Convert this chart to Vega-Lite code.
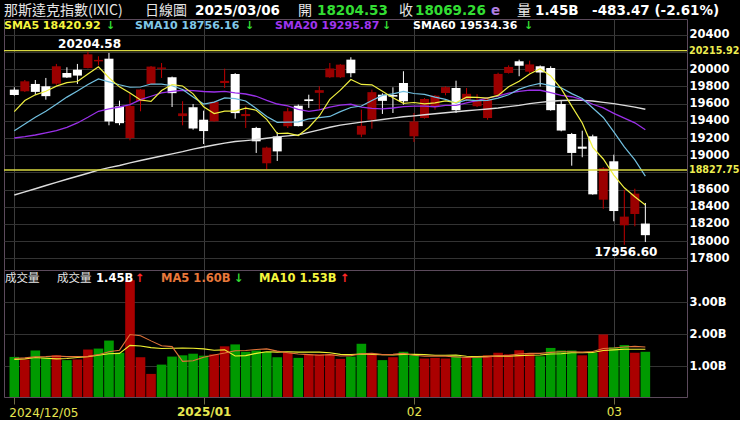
{
"$schema":"https://vega.github.io/schema/vega-lite/v6.json",
"background":"#000000",
"padding":{"left":2,"top":0,"right":0,"bottom":0},
"spacing":0,
"bounds":"flush",
"config":{"view":{"stroke":"#5c4a5c","strokeWidth":1},
"scale":{"continuousPadding":0},
"axis":{"labelFont":"DejaVu Sans","labelColor":"#ffffff","labelFontWeight":"bold","labelFontSize":11.5,"labelOverlap":false,"labelBound":false,"labelFlush":false},
"axisY":{"labelOverlap":false,"domain":false,"ticks":false,"labelPadding":2,"grid":true,"gridColor":"#333333"},
"axisX":{"labelOverlap":false,"domain":false,"grid":true,"gridColor":"#3c3c3c"}},
"resolve":{"scale":{"x":"independent","y":"independent","color":"independent"}},
"datasets":{
"k":[
{"i":0,"o":19763,"h":19790,"l":19693,"cl":19700.26,"vol":1.29,"u":"down","s5":19507.68,"s10":19285,"s20":19200,"s60":18537,"m5":1.24,"m10":1.21},
{"i":1,"o":19744,"h":19875,"l":19736,"cl":19859.77,"vol":1.21,"u":"up","s5":19636.00,"s10":19363,"s20":19216,"s60":18573,"m5":1.26,"m10":1.23},
{"i":2,"o":19829,"h":19875,"l":19704,"cl":19736.69,"vol":1.49,"u":"down","s5":19702.55,"s10":19441,"s20":19235,"s60":18610,"m5":1.29,"m10":1.27},
{"i":3,"o":19802,"h":19899,"l":19646,"cl":19687.24,"vol":1.27,"u":"down","s5":19743.82,"s10":19511,"s20":19259,"s60":18647,"m5":1.30,"m10":1.25},
{"i":4,"o":19832,"h":20062,"l":19820,"cl":20034.89,"vol":1.34,"u":"up","s5":19803.77,"s10":19593,"s20":19285,"s60":18683,"m5":1.32,"m10":1.23},
{"i":5,"o":19957,"h":20023,"l":19899,"cl":19902.84,"vol":1.19,"u":"down","s5":19844.29,"s10":19675.98,"s20":19325,"s60":18720,"m5":1.30,"m10":1.24},
{"i":6,"o":19995,"h":20062,"l":19829,"cl":19926.72,"vol":1.21,"u":"up","s5":19857.68,"s10":19746.84,"s20":19375,"s60":18755,"m5":1.30,"m10":1.27},
{"i":7,"o":20015,"h":20204.58,"l":20010,"cl":20173.89,"vol":1.52,"u":"up","s5":19945.12,"s10":19823.83,"s20":19441,"s60":18790,"m5":1.31,"m10":1.30},
{"i":8,"o":20092,"h":20151,"l":20046,"cl":20109.06,"vol":1.55,"u":"down","s5":20029.48,"s10":19886.65,"s20":19511,"s60":18826,"m5":1.36,"m10":1.34},
{"i":9,"o":20123,"h":20190,"l":19348,"cl":19392.69,"vol":1.80,"u":"down","s5":19901.04,"s10":19852.41,"s20":19538,"s60":18855,"m5":1.45,"m10":1.39},
{"i":10,"o":19569,"h":19635,"l":19349,"cl":19372.77,"vol":1.42,"u":"down","s5":19795.03,"s10":19819.66,"s20":19561,"s60":18880,"m5":1.50,"m10":1.40},
{"i":11,"o":19200,"h":19724,"l":19174,"cl":19572.60,"vol":3.68,"u":"up","s5":19724.20,"s10":19790.94,"s20":19588,"s60":18910,"m5":1.99,"m10":1.65},
{"i":12,"o":19628,"h":19770,"l":19511,"cl":19764.89,"vol":1.28,"u":"up","s5":19642.40,"s10":19793.76,"s20":19646,"s60":18938,"m5":1.95,"m10":1.63},
{"i":13,"o":19829,"h":20038,"l":19829,"cl":20031.13,"vol":0.76,"u":"up","s5":19626.82,"s10":19828.15,"s20":19686,"s60":18965,"m5":1.79,"m10":1.58},
{"i":14,"o":20005,"h":20073,"l":19899,"cl":20020.36,"vol":1.05,"u":"down","s5":19752.35,"s10":19826.70,"s20":19725,"s60":18990,"m5":1.64,"m10":1.55},
{"i":15,"o":19907,"h":19915,"l":19561,"cl":19722.03,"vol":1.30,"u":"down","s5":19822.20,"s10":19808.61,"s20":19742.30,"s60":19015,"m5":1.61,"m10":1.56},
{"i":16,"o":19455,"h":19628,"l":19348,"cl":19486.78,"vol":1.34,"u":"down","s5":19805.04,"s10":19764.62,"s20":19755.73,"s60":19041,"m5":1.15,"m10":1.57},
{"i":17,"o":19558,"h":19596,"l":19297,"cl":19310.79,"vol":1.39,"u":"down","s5":19714.22,"s10":19678.31,"s20":19751.07,"s60":19070,"m5":1.17,"m10":1.56},
{"i":18,"o":19413,"h":19518,"l":19130,"cl":19280.79,"vol":1.33,"u":"down","s5":19564.15,"s10":19595.48,"s20":19741.07,"s60":19095,"m5":1.28,"m10":1.54},
{"i":19,"o":19395,"h":19625,"l":19390,"cl":19621.68,"vol":1.37,"u":"up","s5":19484.41,"s10":19618.38,"s20":19735.39,"s60":19118,"m5":1.35,"m10":1.50},
{"i":20,"o":19840,"h":20007,"l":19782,"cl":19864.98,"vol":1.62,"u":"up","s5":19513.00,"s10":19667.60,"s20":19743.63,"s60":19140,"m5":1.41,"m10":1.51},
{"i":21,"o":19945,"h":19955,"l":19425,"cl":19489.68,"vol":1.68,"u":"down","s5":19513.58,"s10":19659.31,"s20":19725.13,"s60":19160,"m5":1.48,"m10":1.32},
{"i":22,"o":19455,"h":19569,"l":19317,"cl":19478.88,"vol":1.45,"u":"down","s5":19547.20,"s10":19630.71,"s20":19712.23,"s60":19170,"m5":1.49,"m10":1.33},
{"i":23,"o":19317,"h":19330,"l":19026,"cl":19161.63,"vol":1.49,"u":"down","s5":19523.37,"s10":19543.76,"s20":19685.95,"s60":19182,"m5":1.52,"m10":1.40},
{"i":24,"o":18906,"h":19099,"l":18836,"cl":19088.10,"vol":1.45,"u":"down","s5":19416.65,"s10":19450.53,"s20":19638.61,"s60":19198,"m5":1.54,"m10":1.45},
{"i":25,"o":19218,"h":19269,"l":18933,"cl":19044.39,"vol":1.28,"u":"down","s5":19252.54,"s10":19382.77,"s20":19595.69,"s60":19213,"m5":1.47,"m10":1.44},
{"i":26,"o":19337,"h":19550,"l":19317,"cl":19511.23,"vol":1.42,"u":"up","s5":19256.85,"s10":19385.22,"s20":19574.92,"s60":19225,"m5":1.42,"m10":1.45},
{"i":27,"o":19576,"h":19590,"l":19335,"cl":19338.29,"vol":1.26,"u":"down","s5":19228.73,"s10":19387.97,"s20":19533.14,"s60":19237,"m5":1.38,"m10":1.44},
{"i":28,"o":19650,"h":19704,"l":19550,"cl":19630.20,"vol":1.37,"u":"up","s5":19322.44,"s10":19422.91,"s20":19509.19,"s60":19265,"m5":1.36,"m10":1.44},
{"i":29,"o":19726,"h":19802,"l":19530,"cl":19756.78,"vol":1.37,"u":"up","s5":19456.18,"s10":19436.42,"s20":19527.40,"s60":19295,"m5":1.34,"m10":1.44},
{"i":30,"o":19907,"h":20073,"l":19900,"cl":20009.34,"vol":1.37,"u":"up","s5":19649.17,"s10":19450.85,"s20":19559.23,"s60":19325,"m5":1.36,"m10":1.42},
{"i":31,"o":19907,"h":20060,"l":19900,"cl":20053.68,"vol":1.23,"u":"up","s5":19757.66,"s10":19507.25,"s20":19583.28,"s60":19350,"m5":1.32,"m10":1.37},
{"i":32,"o":20112,"h":20140,"l":19907,"cl":19954.30,"vol":1.30,"u":"down","s5":19880.86,"s10":19554.79,"s20":19592.75,"s60":19368,"m5":1.33,"m10":1.36},
{"i":33,"o":19239,"h":19530,"l":19209,"cl":19341.83,"vol":1.70,"u":"down","s5":19823.19,"s10":19572.81,"s20":19558.29,"s60":19385,"m5":1.39,"m10":1.38},
{"i":34,"o":19413,"h":19763,"l":19309,"cl":19733.59,"vol":1.39,"u":"up","s5":19818.55,"s10":19637.36,"s20":19543.95,"s60":19400,"m5":1.40,"m10":1.37},
{"i":35,"o":19704,"h":19720,"l":19480,"cl":19632.32,"vol":1.19,"u":"down","s5":19743.14,"s10":19696.16,"s20":19539.46,"s60":19415,"m5":1.36,"m10":1.36},
{"i":36,"o":19700,"h":19790,"l":19491,"cl":19681.75,"vol":1.28,"u":"up","s5":19668.76,"s10":19713.21,"s20":19549.21,"s60":19432,"m5":1.37,"m10":1.35},
{"i":37,"o":19840,"h":19977,"l":19588,"cl":19627.44,"vol":1.45,"u":"down","s5":19603.39,"s10":19742.12,"s20":19565.04,"s60":19447,"m5":1.40,"m10":1.37},
{"i":38,"o":19220,"h":19491,"l":19154,"cl":19391.96,"vol":1.37,"u":"down","s5":19613.41,"s10":19718.30,"s20":19570.60,"s60":19458,"m5":1.34,"m10":1.37},
{"i":39,"o":19433,"h":19665,"l":19425,"cl":19654.02,"vol":1.24,"u":"up","s5":19597.50,"s10":19708.02,"s20":19572.22,"s60":19470,"m5":1.31,"m10":1.36},
{"i":40,"o":19560,"h":19700,"l":19530,"cl":19692.33,"vol":1.26,"u":"up","s5":19609.50,"s10":19676.32,"s20":19563.59,"s60":19482,"m5":1.32,"m10":1.34},
{"i":41,"o":19724,"h":19802,"l":19697,"cl":19791.99,"vol":1.24,"u":"up","s5":19631.55,"s10":19650.15,"s20":19578.70,"s60":19494,"m5":1.31,"m10":1.34},
{"i":42,"o":19782,"h":19867,"l":19491,"cl":19523.40,"vol":1.34,"u":"down","s5":19610.74,"s10":19607.06,"s20":19580.93,"s60":19506,"m5":1.29,"m10":1.35},
{"i":43,"o":19646,"h":19782,"l":19628,"cl":19714.27,"vol":1.26,"u":"up","s5":19675.20,"s10":19644.31,"s20":19608.56,"s60":19518,"m5":1.27,"m10":1.31},
{"i":44,"o":19570,"h":19710,"l":19560,"cl":19643.86,"vol":1.28,"u":"down","s5":19673.17,"s10":19635.33,"s20":19636.35,"s60":19528,"m5":1.28,"m10":1.30},
{"i":45,"o":19433,"h":19660,"l":19413,"cl":19649.95,"vol":1.34,"u":"up","s5":19664.69,"s10":19637.10,"s20":19666.63,"s60":19538,"m5":1.29,"m10":1.31},
{"i":46,"o":19704,"h":19960,"l":19700,"cl":19945.64,"vol":1.42,"u":"up","s5":19695.42,"s10":19663.49,"s20":19688.35,"s60":19550,"m5":1.33,"m10":1.32},
{"i":47,"o":19957,"h":20045,"l":19950,"cl":20026.77,"vol":1.37,"u":"up","s5":19796.10,"s10":19703.42,"s20":19722.77,"s60":19565,"m5":1.33,"m10":1.31},
{"i":48,"o":20093,"h":20112,"l":19919,"cl":20041.26,"vol":1.50,"u":"up","s5":19861.50,"s10":19768.35,"s20":19743.32,"s60":19580,"m5":1.38,"m10":1.33},
{"i":49,"o":19972,"h":20100,"l":19953,"cl":20056.25,"vol":1.39,"u":"up","s5":19943.97,"s10":19808.57,"s20":19758.30,"s60":19600,"m5":1.40,"m10":1.34},
{"i":50,"o":20035,"h":20045,"l":19798,"cl":19962.36,"vol":1.31,"u":"down","s5":20006.46,"s10":19835.58,"s20":19755.95,"s60":19615,"m5":1.40,"m10":1.35},
{"i":51,"o":20015,"h":20035,"l":19518,"cl":19524.01,"vol":1.57,"u":"down","s5":19922.13,"s10":19808.78,"s20":19729.47,"s60":19628,"m5":1.43,"m10":1.38},
{"i":52,"o":19596,"h":19635,"l":19278,"cl":19286.93,"vol":1.49,"u":"down","s5":19774.16,"s10":19785.13,"s20":19696.10,"s60":19636,"m5":1.45,"m10":1.39},
{"i":53,"o":19247,"h":19259,"l":18878,"cl":19026.39,"vol":1.49,"u":"down","s5":19571.19,"s10":19716.34,"s20":19680.32,"s60":19640,"m5":1.45,"m10":1.42},
{"i":54,"o":19100,"h":19285,"l":18976,"cl":19075.26,"vol":1.34,"u":"up","s5":19374.99,"s10":19659.48,"s20":19647.41,"s60":19638,"m5":1.44,"m10":1.42},
{"i":55,"o":19220,"h":19239,"l":18540,"cl":18544.42,"vol":1.42,"u":"down","s5":19091.40,"s10":19548.93,"s20":19593.01,"s60":19630,"m5":1.46,"m10":1.43},
{"i":56,"o":18482,"h":18860,"l":18377,"cl":18847.28,"vol":1.99,"u":"up","s5":18956.06,"s10":19439.09,"s20":19551.29,"s60":19615,"m5":1.55,"m10":1.49},
{"i":57,"o":18929,"h":19006,"l":18231,"cl":18350.19,"vol":1.59,"u":"down","s5":18768.71,"s10":19271.44,"s20":19487.43,"s60":19600,"m5":1.57,"m10":1.51},
{"i":58,"o":18184,"h":18599,"l":17956.60,"cl":18285.16,"vol":1.66,"u":"down","s5":18620.46,"s10":19095.83,"s20":19432.09,"s60":19580,"m5":1.60,"m10":1.53},
{"i":59,"o":18316,"h":18610,"l":18173,"cl":18552.73,"vol":1.42,"u":"up","s5":18515.96,"s10":18945.47,"s20":19377.02,"s60":19560,"m5":1.62,"m10":1.53},
{"i":60,"o":18204.53,"h":18444,"l":17990,"cl":18069.26,"vol":1.45,"u":"down","s5":18420.92,"s10":18756.16,"s20":19295.87,"s60":19534.36,"m5":1.60,"m10":1.53}
],
"lv":[{"v":20215.92},{"v":18827.75}],
"t":[
{"p":"h","g":"c","i":-0.98,"v":8,"t":"那斯達克指數(IXIC)","col":"label"},
{"p":"h","g":"c","i":12.43,"v":8,"t":"日線圖","col":"label"},
{"p":"h","g":"b","i":17.18,"v":8,"t":"2025/03/06","col":"plain"},
{"p":"h","g":"c","i":26.98,"v":8,"t":"開","col":"label"},
{"p":"h","g":"b","i":28.78,"v":8,"t":"18204.53","col":"down"},
{"p":"h","g":"c","i":36.58,"v":8,"t":"收","col":"label"},
{"p":"h","g":"b","i":38.10,"v":8,"t":"18069.26","col":"down"},
{"p":"h","g":"b","i":45.33,"v":8,"t":"e","col":"est"},
{"p":"h","g":"c","i":47.80,"v":8,"t":"量","col":"label"},
{"p":"h","g":"b","i":49.51,"v":8,"t":"1.45B","col":"plain"},
{"p":"h","g":"b","i":54.93,"v":8,"t":"-483.47 (-2.61%)","col":"plain"},
{"p":"u","g":"b","i":-0.98,"v":20504,"t":"SMA5 18420.92","col":"sma5"},
{"p":"u","g":"b","i":8.72,"v":20504,"t":"↓","col":"down"},
{"p":"u","g":"b","i":11.48,"v":20504,"t":"SMA10 18756.16","col":"sma10"},
{"p":"u","g":"b","i":21.93,"v":20504,"t":"↓","col":"down"},
{"p":"u","g":"b","i":24.79,"v":20504,"t":"SMA20 19295.87","col":"sma20"},
{"p":"u","g":"b","i":34.96,"v":20504,"t":"↓","col":"down"},
{"p":"u","g":"b","i":37.91,"v":20504,"t":"SMA60 19534.36","col":"sma60"},
{"p":"u","g":"b","i":48.46,"v":20504,"t":"↓","col":"down"},
{"p":"u","g":"a","i":4.16,"v":20291,"t":"20204.58","col":"plain"},
{"p":"u","g":"a","i":55.16,"v":17870,"t":"17956.60","col":"plain"},
{"p":"u","g":"s","i":64.15,"v":20215.92,"t":"20215.92","col":"level"},
{"p":"u","g":"s","i":64.15,"v":18827.75,"t":"18827.75","col":"level"},
{"p":"l","g":"c","i":-0.89,"v":3.71,"t":"成交量","col":"label"},
{"p":"l","g":"c","i":4.06,"v":3.71,"t":"成交量","col":"label"},
{"p":"l","g":"b","i":7.77,"v":3.71,"t":"1.45B","col":"plain"},
{"p":"l","g":"b","i":11.48,"v":3.71,"t":"↑","col":"up"},
{"p":"l","g":"b","i":13.95,"v":3.71,"t":"MA5 1.60B","col":"ma5"},
{"p":"l","g":"b","i":20.89,"v":3.71,"t":"↓","col":"down"},
{"p":"l","g":"b","i":23.27,"v":3.71,"t":"MA10 1.53B","col":"ma10"},
{"p":"l","g":"b","i":30.97,"v":3.71,"t":"↑","col":"up"},
{"p":"l","g":"x","i":-0.48,"v":-0.46,"t":"2024/12/05","col":"date"}
]
},
"vconcat":[
{
"width":683,"height":19,
"view":{"stroke":null,"fill":"#000000"},
"data":{"name":"t"},
"transform":[{"filter":"datum.p == 'h'"}],
"encoding":{
"x":{"field":"i","type":"quantitative","scale":{"domain":[-0.98,63.96],"nice":false,"zero":false,"padding":0},"axis":null},
"y":{"field":"v","type":"quantitative","scale":{"domain":[0,19],"nice":false,"zero":false,"padding":0},"axis":null},
"text":{"field":"t"},
"color":{"field":"col","type":"nominal","legend":null,"scale":{"domain":["plain","label","down","up","est","sma5","sma10","sma20","sma60","level","ma5","ma10","date"],"range":["#ffffff","#e6e6e6","#33dd33","#ff2a2a","#b07ee0","#f5f53d","#80c8e8","#a035f0","#ffffff","#ecec50","#e8783a","#f5f53d","#e6e650"]}}
},
"layer":[
{"transform":[{"filter":"datum.g == 'c'"}],"mark":{"type":"text","align":"left","baseline":"middle","font":"Noto Sans CJK TC","fontSize":14}},
{"transform":[{"filter":"datum.g == 'b'"}],"mark":{"type":"text","align":"left","baseline":"middle","font":"DejaVu Sans","fontWeight":"bold","fontSize":13.5}}
]
},
{
"width":683,"height":251,
"layer":[
{"data":{"name":"k"},"mark":{"type":"rule","strokeWidth":1},
"encoding":{
"x":{"field":"i","type":"quantitative","title":null,"scale":{"domain":[-0.98,63.96],"nice":false,"zero":false,"padding":0},"axis":{"orient":"bottom","values":[0,18,38,57],"tickCount":20,"labels":false,"ticks":false,"domain":false,"grid":true,"gridColor":"#3c3c3c","labelOverlap":false}},
"y":{"field":"l","type":"quantitative","title":null,"scale":{"domain":[17664,20585],"nice":false,"zero":false,"padding":0},"axis":{"orient":"right","values":[17800,18000,18200,18400,18600,18800,19000,19200,19400,19600,19800,20000,20200,20400],"tickCount":30,"format":"d","labelExpr":"datum.value == 18800 || datum.value == 20200 ? '' : datum.label","labelOverlap":false,"labelBound":false,"domain":false,"ticks":false,"labelPadding":2,"grid":true,"gridColor":"#333333"}},
"y2":{"field":"h"},
"color":{"condition":{"test":"datum.cl >= datum.o","value":"#c00000"},"value":"#ffffff"}}},
{"data":{"name":"k"},"mark":{"type":"bar","size":9,"orient":"vertical"},
"encoding":{
"x":{"field":"i","type":"quantitative","title":null},
"y":{"field":"o","type":"quantitative","title":null},
"y2":{"field":"cl"},
"color":{"condition":{"test":"datum.cl >= datum.o","value":"#9a0000"},"value":"#ffffff"}}},
{"data":{"name":"k"},"mark":{"type":"line","color":"#dcdcdc","strokeWidth":1.4},
"encoding":{"x":{"field":"i","type":"quantitative","title":null},"y":{"field":"s60","type":"quantitative","title":null}}},
{"data":{"name":"k"},"mark":{"type":"line","color":"#9a30e8","strokeWidth":1.3},
"encoding":{"x":{"field":"i","type":"quantitative","title":null},"y":{"field":"s20","type":"quantitative","title":null}}},
{"data":{"name":"k"},"mark":{"type":"line","color":"#72c0e0","strokeWidth":1.2},
"encoding":{"x":{"field":"i","type":"quantitative","title":null},"y":{"field":"s10","type":"quantitative","title":null}}},
{"data":{"name":"k"},"mark":{"type":"line","color":"#f0f040","strokeWidth":1.2},
"encoding":{"x":{"field":"i","type":"quantitative","title":null},"y":{"field":"s5","type":"quantitative","title":null}}},
{"data":{"name":"lv"},"mark":{"type":"rule","color":"#d8d840","strokeWidth":1.3},
"encoding":{"y":{"field":"v","type":"quantitative","title":null}}},
{"data":{"name":"t"},"transform":[{"filter":"datum.p == 'u' && datum.g == 'b'"}],
"mark":{"type":"text","align":"left","baseline":"middle","font":"DejaVu Sans","fontWeight":"bold","fontSize":11},
"encoding":{"x":{"field":"i","type":"quantitative","title":null},"y":{"field":"v","type":"quantitative","title":null},"text":{"field":"t"},
"color":{"field":"col","type":"nominal","legend":null,"scale":{"domain":["plain","label","down","up","est","sma5","sma10","sma20","sma60","level","ma5","ma10","date"],"range":["#ffffff","#e6e6e6","#33dd33","#ff2a2a","#b07ee0","#f5f53d","#80c8e8","#a035f0","#ffffff","#ecec50","#e8783a","#f5f53d","#e6e650"]}}}},
{"data":{"name":"t"},"transform":[{"filter":"datum.p == 'u' && datum.g == 'a'"}],
"mark":{"type":"text","align":"left","baseline":"middle","font":"DejaVu Sans","fontWeight":"bold","fontSize":12},
"encoding":{"x":{"field":"i","type":"quantitative","title":null},"y":{"field":"v","type":"quantitative","title":null},"text":{"field":"t"},
"color":{"field":"col","type":"nominal","legend":null}}},
{"data":{"name":"t"},"transform":[{"filter":"datum.p == 'u' && datum.g == 's'"}],
"mark":{"type":"text","align":"left","baseline":"middle","font":"DejaVu Sans","fontWeight":"bold","fontSize":9.6},
"encoding":{"x":{"field":"i","type":"quantitative","title":null},"y":{"field":"v","type":"quantitative","title":null},"text":{"field":"t"},
"color":{"field":"col","type":"nominal","legend":null}}}
]
},
{
"width":683,"height":127,
"layer":[
{"data":{"name":"k"},"mark":{"type":"bar","size":9.6,"orient":"vertical","clip":true},
"encoding":{
"x":{"field":"i","type":"quantitative","title":null,"scale":{"domain":[-0.98,63.96],"nice":false,"zero":false,"padding":0},"axis":{"orient":"bottom","values":[0,18,38,57],"tickCount":20,"labelExpr":"datum.value == 0 ? '' : datum.value == 18 ? '2025/01' : datum.value == 38 ? '02' : '03'","grid":true,"gridColor":"#3c3c3c","domain":false,"ticks":true,"tickSize":7,"tickColor":"#6e6e48","labelColor":"#e6e650","labelFontSize":12,"labelFontWeight":{"condition":{"test":"datum.value == 18","value":"bold"},"value":"normal"},"labelPadding":2,"labelOverlap":false,"labelFlush":false}},
"y":{"field":"vol","type":"quantitative","title":null,"scale":{"domain":[0.04,4.0],"nice":false,"zero":false,"padding":0},"axis":{"orient":"right","values":[1,2,3],"tickCount":10,"labelExpr":"format(datum.value, '.2f') + 'B'","labelOverlap":false,"domain":false,"ticks":false,"labelPadding":2,"grid":true,"gridColor":"#333333"}},
"color":{"condition":{"test":"datum.u == 'up'","value":"#aa0000"},"value":"#009a00"}}},
{"data":{"name":"k"},"mark":{"type":"line","color":"#f0f030","strokeWidth":1.1},
"encoding":{"x":{"field":"i","type":"quantitative","title":null},"y":{"field":"m10","type":"quantitative","title":null}}},
{"data":{"name":"k"},"mark":{"type":"line","color":"#e0743a","strokeWidth":1.1},
"encoding":{"x":{"field":"i","type":"quantitative","title":null},"y":{"field":"m5","type":"quantitative","title":null}}},
{"data":{"name":"t"},"transform":[{"filter":"datum.p == 'l' && datum.g == 'c'"}],
"mark":{"type":"text","align":"left","baseline":"middle","font":"Noto Sans CJK TC","fontSize":11.5},
"encoding":{"x":{"field":"i","type":"quantitative","title":null},"y":{"field":"v","type":"quantitative","title":null},"text":{"field":"t"},
"color":{"field":"col","type":"nominal","legend":null,"scale":{"domain":["plain","label","down","up","est","sma5","sma10","sma20","sma60","level","ma5","ma10","date"],"range":["#ffffff","#e6e6e6","#33dd33","#ff2a2a","#b07ee0","#f5f53d","#80c8e8","#a035f0","#ffffff","#ecec50","#e8783a","#f5f53d","#e6e650"]}}}},
{"data":{"name":"t"},"transform":[{"filter":"datum.p == 'l' && datum.g == 'b'"}],
"mark":{"type":"text","align":"left","baseline":"middle","font":"DejaVu Sans","fontWeight":"bold","fontSize":11.5},
"encoding":{"x":{"field":"i","type":"quantitative","title":null},"y":{"field":"v","type":"quantitative","title":null},"text":{"field":"t"},
"color":{"field":"col","type":"nominal","legend":null}}},
{"data":{"name":"t"},"transform":[{"filter":"datum.p == 'l' && datum.g == 'x'"}],
"mark":{"type":"text","align":"left","baseline":"middle","font":"DejaVu Sans","fontSize":12},
"encoding":{"x":{"field":"i","type":"quantitative","title":null},"y":{"field":"v","type":"quantitative","title":null},"text":{"field":"t"},
"color":{"field":"col","type":"nominal","legend":null}}}
]
}
]
}
